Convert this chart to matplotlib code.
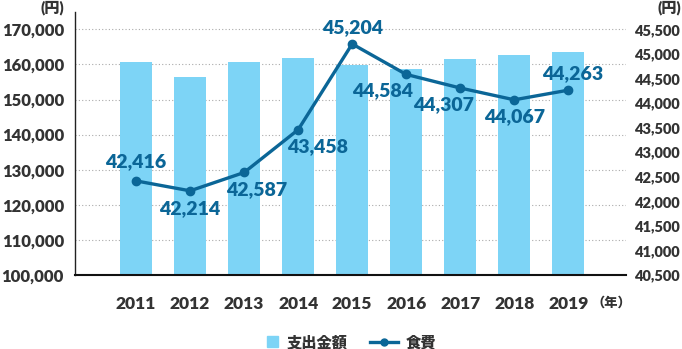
import matplotlib
matplotlib.use("Agg")
import matplotlib.pyplot as plt
from matplotlib.lines import Line2D
from matplotlib.patches import Rectangle

plt.rcParams['font.family'] = ['Lato', 'Noto Sans CJK JP', 'DejaVu Sans']
plt.rcParams['font.weight'] = 'heavy'

# データ
years = ["2011", "2012", "2013", "2014", "2015", "2016", "2017", "2018", "2019"]
spending = [160700, 156400, 160650, 161800, 159800, 158700, 161500, 162600, 163500]
food = [42416, 42214, 42587, 43458, 45204, 44584, 44307, 44067, 44263]
left_ticks = [100000, 110000, 120000, 130000, 140000, 150000, 160000, 170000]
right_ticks = [40500, 41000, 41500, 42000, 42500, 43000, 43500, 44000, 44500, 45000, 45500]
# ラベル位置 (points)
label_offsets = [(0, 14), (0, -13), (9, -12), (14, -12), (0, 12),
                 (-17, -12), (-12, -12), (0, -12), (3, 12)]

BAR_C = "#7dd4f6"
LINE_C = "#0b6697"
TXT_C = "#333333"
W, H = 682, 349

fig = plt.figure(figsize=(6.82, 3.49), dpi=100)
ax = fig.add_axes([0.110, 0.212, 0.808, 0.754])
x = list(range(len(years)))

ax.bar(x, spending, width=0.59, color=BAR_C, zorder=2)
ax.set_ylim(100000, 175000)
ax.set_xlim(-1.13, 9.07)
ax.set_yticks(left_ticks)
ax.set_yticklabels([f"{v:,}" for v in left_ticks])
ax.set_xticks(x)
ax.set_xticklabels(years)
ax.tick_params(axis="y", length=0, pad=8, labelsize=12, labelcolor=TXT_C)
ax.tick_params(axis="x", length=0, pad=15, labelsize=12.5, labelcolor=TXT_C)
for v in left_ticks[1:]:
    ax.axhline(v, color="#aaaaaa", linestyle=(0, (1, 2)), linewidth=0.8, zorder=1)
ax.spines["top"].set_visible(False)
ax.spines["right"].set_visible(False)
ax.spines["left"].set_color("#222222")
ax.spines["left"].set_linewidth(1.0)
ax.spines["bottom"].set_color("#111111")
ax.spines["bottom"].set_linewidth(1.5)

ax2 = ax.twinx()
ax2.plot(x, food, color=LINE_C, linewidth=2.4, marker="o", markersize=6, zorder=3)
ax2.set_ylim(40500, 40500 + 75000 / 70000 * 5000)
ax2.set_yticks(right_ticks)
ax2.set_yticklabels([f"{v:,}" for v in right_ticks])
ax2.tick_params(axis="y", length=0, pad=6, labelsize=10.5, labelcolor=TXT_C)
for s in ["top", "right", "left", "bottom"]:
    ax2.spines[s].set_visible(False)

for xi, v, (dx, dy) in zip(x, food, label_offsets):
    ax2.annotate(f"{v:,}", (xi, v), xytext=(dx, dy), textcoords="offset points",
                 ha="center", va="center", fontsize=14, color=LINE_C)

fig.text(52 / W, 1 - 8 / H, "(円)", ha="center", va="center", fontsize=11, color=TXT_C)
fig.text(669 / W, 1 - 8 / H, "(円)", ha="center", va="center", fontsize=11, color=TXT_C)
fig.text(611 / W, 1 - 302 / H, "（年）", ha="center", va="center", fontsize=9.5, color=TXT_C)

# 凡例
ly = 1 - 342 / H
fig.add_artist(Rectangle((267 / W, 1 - 347 / H), 11 / W, 11 / H, color=BAR_C,
                         transform=fig.transFigure))
fig.text(287 / W, ly, "支出金額", ha="left", va="center", fontsize=11, color=TXT_C)
fig.add_artist(Line2D([370 / W, 398 / W], [ly, ly], color=LINE_C, linewidth=2.4,
                      transform=fig.transFigure))
fig.add_artist(Line2D([384 / W], [ly], color=LINE_C, marker="o", markersize=5,
                      transform=fig.transFigure))
fig.text(406 / W, ly, "食費", ha="left", va="center", fontsize=11, color=TXT_C)

fig.savefig("out.png", dpi=100)
